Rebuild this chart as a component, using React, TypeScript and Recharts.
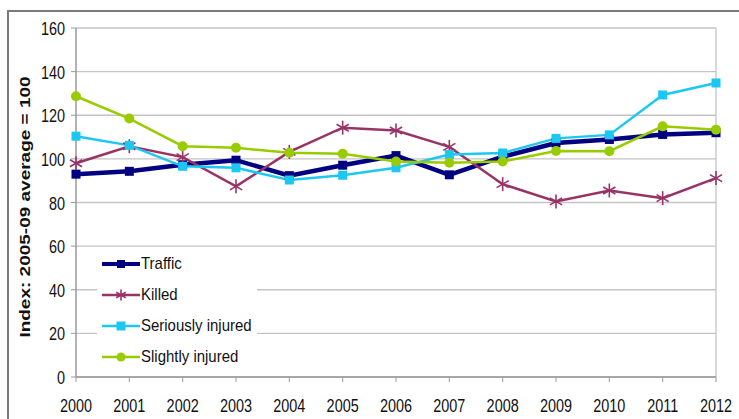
import React from 'react';
import {
  LineChart,
  Line,
  XAxis,
  YAxis,
  CartesianGrid,
  ReferenceLine,
  Legend,
  Label,
} from 'recharts';

// Index values, 2005-09 average = 100
const years = ['2000', '2001', '2002', '2003', '2004', '2005', '2006', '2007', '2008', '2009', '2010', '2011', '2012'];
const traffic = [93, 94.3, 97.3, 99.4, 92.3, 97.1, 101.5, 92.7, 101, 107.3, 108.9, 111.2, 112];
const killed = [98, 105.8, 100.8, 87.4, 103.2, 114.3, 113, 105.5, 88.4, 80.5, 85.5, 82, 91.2];
const seriously = [110.4, 106.2, 96.6, 95.9, 90.3, 92.5, 95.9, 102, 102.7, 109.4, 111, 129.3, 134.8];
const slightly = [128.7, 118.5, 105.8, 105.1, 102.8, 102.4, 98.8, 98.2, 98.8, 103.6, 103.5, 114.9, 113.4];
const yTicks = [0, 20, 40, 60, 80, 100, 120, 140, 160];

const COLORS = {
  traffic: '#000080',
  killed: '#993366',
  seriously: '#1cc8f2',
  slightly: '#99cc00',
};

const data = years.map((year, i) => ({
  year,
  traffic: traffic[i],
  killed: killed[i],
  seriously: seriously[i],
  slightly: slightly[i],
}));

const FONT = '"Liberation Sans", Arial, sans-serif';
const SQUEEZE = 0.76;

const SquareDot = ({ cx, cy, size, color }: any) => (
  <rect x={cx - size / 2} y={cy - size / 2} width={size} height={size} fill={color} />
);

const StarDot = ({ cx, cy, color, r = 7 }: any) => {
  const d = r * 0.87;
  return (
    <g stroke={color} strokeWidth={1.6}>
      <line x1={cx} y1={cy - r} x2={cx} y2={cy + r} />
      <line x1={cx - d} y1={cy - r / 2} x2={cx + d} y2={cy + r / 2} />
      <line x1={cx - d} y1={cy + r / 2} x2={cx + d} y2={cy - r / 2} />
    </g>
  );
};

const CircleDot = ({ cx, cy, color, r = 5 }: any) => <circle cx={cx} cy={cy} r={r} fill={color} />;

const XTick = ({ x, y, payload }: any) => (
  <text
    transform={`translate(${x},${y + 28}) scale(${SQUEEZE},1)`}
    textAnchor="middle"
    fontFamily={FONT}
    fontSize={19}
    fill="#111"
  >
    {payload.value}
  </text>
);

const YTick = ({ x, y, payload }: any) => (
  <text
    transform={`translate(${x - 4},${y + 7}) scale(${SQUEEZE},1)`}
    textAnchor="end"
    fontFamily={FONT}
    fontSize={19}
    fill="#111"
  >
    {payload.value}
  </text>
);

const legendItems = [
  { key: 'traffic', name: 'Traffic' },
  { key: 'killed', name: 'Killed' },
  { key: 'seriously', name: 'Seriously injured' },
  { key: 'slightly', name: 'Slightly injured' },
];

const LegendIcon = ({ k }: { k: string }) => {
  const color = (COLORS as any)[k];
  return (
    <svg width={44} height={16} style={{ display: 'block', flexShrink: 0 }}>
      <line x1={5} y1={8} x2={43} y2={8} stroke={color} strokeWidth={k === 'traffic' ? 4 : 2.5} />
      {k === 'traffic' && <SquareDot cx={24} cy={8} size={8} color={color} />}
      {k === 'killed' && <StarDot cx={24} cy={8} r={5.5} color={color} />}
      {k === 'seriously' && <SquareDot cx={24} cy={8} size={9} color={color} />}
      {k === 'slightly' && <CircleDot cx={24} cy={8} r={4.5} color={color} />}
    </svg>
  );
};

const renderLegend = () => (
  <div style={{ background: '#fff', width: 160, height: 122 }}>
    {legendItems.map((item) => (
      <div key={item.key} style={{ display: 'flex', alignItems: 'center', height: 31, width: 220 }}>
        <LegendIcon k={item.key} />
        <span
          style={{
            fontFamily: FONT,
            fontSize: 17,
            color: '#111',
            display: 'inline-block',
            flexShrink: 0,
            transform: 'scaleX(0.88)',
            transformOrigin: 'left center',
            whiteSpace: 'nowrap',
          }}
        >
          {item.name}
        </span>
      </div>
    ))}
  </div>
);

const YTitle = () => (
  <text
    transform={`translate(30,207) scale(${SQUEEZE},1) rotate(-90)`}
    textAnchor="middle"
    fontFamily={FONT}
    fontSize={19}
    fontWeight="bold"
    fill="#111"
  >
    Index: 2005-09 average = 100
  </text>
);

export default function App() {
  return (
    <div style={{ position: 'absolute', left: 0, top: 0, width: 739, height: 419, background: '#fff' }}>
      {/* outer frame, partly cropped in the original */}
      <div
        style={{
          position: 'absolute',
          left: 7,
          top: 10,
          width: 732,
          height: 409,
          borderTop: '2px solid #7a7a7a',
          borderLeft: '2px solid #7a7a7a',
          boxSizing: 'border-box',
        }}
      />
      <div style={{ position: 'absolute', left: 0, top: 0 }}>
        <LineChart width={739} height={419} data={data} margin={{ top: 28, right: 23, left: 16, bottom: 0 }}>
          <CartesianGrid vertical={false} stroke="#c4c4c4" strokeWidth={1.3} />
          <XAxis
            dataKey="year"
            height={42}
            tick={<XTick />}
            tickSize={5}
            axisLine={{ stroke: '#9a9a9a', strokeWidth: 1.5 }}
            tickLine={{ stroke: '#9a9a9a' }}
            interval={0}
          />
          <YAxis
            width={60}
            domain={[0, 160]}
            ticks={yTicks}
            tick={<YTick />}
            tickSize={5}
            axisLine={{ stroke: '#9a9a9a', strokeWidth: 1.5 }}
            tickLine={{ stroke: '#9a9a9a' }}
          >
            <Label content={<YTitle />} />
          </YAxis>
          <ReferenceLine x="2012" stroke="#c4c4c4" strokeWidth={1.3} />
          <Legend
            layout="vertical"
            align="center"
            verticalAlign="middle"
            content={renderLegend}
            wrapperStyle={{ left: 97, top: 248, width: 160, height: 122 }}
          />
          <Line
            dataKey="traffic"
            name="Traffic"
            stroke={COLORS.traffic}
            strokeWidth={4.5}
            dot={(p: any) => <SquareDot key={p.index} cx={p.cx} cy={p.cy} size={9} color={COLORS.traffic} />}
            isAnimationActive={false}
          />
          <Line
            dataKey="killed"
            name="Killed"
            stroke={COLORS.killed}
            strokeWidth={2.5}
            dot={(p: any) => <StarDot key={p.index} cx={p.cx} cy={p.cy} color={COLORS.killed} />}
            isAnimationActive={false}
          />
          <Line
            dataKey="seriously"
            name="Seriously injured"
            stroke={COLORS.seriously}
            strokeWidth={2.5}
            dot={(p: any) => <SquareDot key={p.index} cx={p.cx} cy={p.cy} size={9} color={COLORS.seriously} />}
            isAnimationActive={false}
          />
          <Line
            dataKey="slightly"
            name="Slightly injured"
            stroke={COLORS.slightly}
            strokeWidth={2.5}
            dot={(p: any) => <CircleDot key={p.index} cx={p.cx} cy={p.cy} color={COLORS.slightly} />}
            isAnimationActive={false}
          />
        </LineChart>
      </div>
    </div>
  );
}
